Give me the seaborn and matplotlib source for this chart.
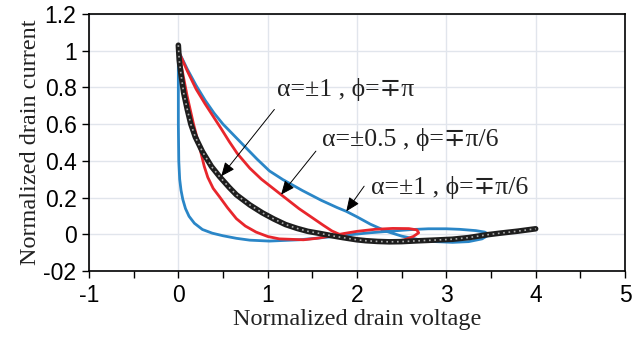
import matplotlib
matplotlib.use("Agg")
import matplotlib.pyplot as plt
import seaborn as sns
import pandas as pd

# ---- data ----
black_v = [0.0, 0.01, 0.03, 0.06, 0.1, 0.14, 0.19, 0.27, 0.37, 0.46, 0.57, 0.65, 0.8, 0.94,
           1.07, 1.2, 1.33, 1.45, 1.58, 1.72, 1.84, 2.0, 2.1, 2.23, 2.36, 2.5, 2.66, 2.85, 3.07,
           3.25, 3.45, 3.6, 3.8, 4.0]
black_i = [1.03, 0.95, 0.87, 0.77, 0.68, 0.6, 0.53, 0.45, 0.37, 0.315, 0.255, 0.215, 0.16, 0.117,
           0.083, 0.053, 0.032, 0.016, 0.005, -0.008, -0.018, -0.03, -0.035, -0.039, -0.041, -0.04, -0.036, -0.032, -0.027,
           -0.018, -0.003, 0.006, 0.017, 0.03]

red_v = [0.0, 0.1, 0.2, 0.3, 0.4, 0.48, 0.57, 0.66, 0.8, 0.93, 1.15, 1.35, 1.5, 1.62, 1.72,
         1.84, 1.97, 2.1, 2.25, 2.4, 2.53, 2.63, 2.69, 2.67, 2.58, 2.4, 2.2, 2.0, 1.85, 1.7,
         1.55, 1.4, 1.13, 1.0, 0.87, 0.75, 0.65, 0.55, 0.46, 0.39, 0.33, 0.29, 0.25, 0.17, 0.1,
         0.04, 0.0]
red_i = [1.0, 0.89, 0.79, 0.71, 0.635, 0.575, 0.505, 0.44, 0.36, 0.30, 0.216, 0.14, 0.09, 0.05, 0.018,
         -0.008, -0.027, -0.036, -0.04, -0.04, -0.03, -0.012, 0.008, 0.024, 0.031, 0.032, 0.027, 0.016, 0.004, -0.01,
         -0.022, -0.03, -0.025, -0.012, 0.012, 0.045, 0.085, 0.145, 0.205, 0.25, 0.31, 0.37, 0.45, 0.6, 0.75,
         0.9, 1.0]

blue_v = [0.0, 0.1, 0.2, 0.3, 0.4, 0.5, 0.6, 0.74, 0.88, 1.02, 1.17, 1.39, 1.6, 1.78, 1.88,
          2.0, 2.15, 2.33, 2.5, 2.7, 2.88, 3.07, 3.25, 3.4, 3.48, 3.43, 3.33, 3.15, 3.0, 2.8,
          2.62, 2.4, 2.14, 1.85, 1.58, 1.35, 1.02, 0.8, 0.65, 0.5, 0.38, 0.27, 0.18, 0.12, 0.08,
          0.05, 0.03, 0.015, 0.005, 0.0, 0.0, 0.0]
blue_i = [1.0, 0.9, 0.81, 0.73, 0.66, 0.6, 0.55, 0.48, 0.41, 0.345, 0.298, 0.238, 0.185, 0.145, 0.125,
          0.095, 0.055, 0.016, -0.01, -0.03, -0.04, -0.044, -0.04, -0.025, -0.002, 0.012, 0.02, 0.027, 0.03, 0.03,
          0.026, 0.018, 0.008, -0.006, -0.02, -0.03, -0.037, -0.032, -0.022, -0.008, 0.006, 0.026, 0.06, 0.098, 0.14,
          0.19, 0.24, 0.3, 0.4, 0.6, 0.85, 1.0]

xticks = [-1, 0, 1, 2, 3, 4, 5]
xtick_labels = ["-1", "0", "1", "2", "3", "4", "5"]
yticks = [1.2, 1.0, 0.8, 0.6, 0.4, 0.2, 0.0, -0.2]
ytick_labels = ["1.2", "1", "0.8", "0.6", "0.4", "0.2", "0", "-02"]

labels = ["α=±1 , ϕ=∓π", "α=±0.5 , ϕ=∓π/6", "α=±1 , ϕ=∓π/6"]

# ---- figure ----
sns.set_theme(style="whitegrid")
plt.rcParams["font.family"] = ["Liberation Sans", "DejaVu Sans"]
serif = ["Liberation Serif", "DejaVu Serif"]

fig = plt.figure(figsize=(6.41, 3.41), dpi=100)
ax = fig.add_axes([89 / 641, 1 - 271 / 341, (625 - 89) / 641, (271 - 14) / 341])
ax.set_facecolor("white")

blue_c = "#2a86c7"
red_c = "#e8262c"

df_b = pd.DataFrame({"v": blue_v, "i": blue_i})
df_r = pd.DataFrame({"v": red_v, "i": red_i})
df_k = pd.DataFrame({"v": black_v, "i": black_i})

sns.lineplot(data=df_b, x="v", y="i", sort=False, estimator=None, color=blue_c, lw=2.0, ax=ax)
sns.lineplot(data=df_r, x="v", y="i", sort=False, estimator=None, color=red_c, lw=2.0, ax=ax)
sns.lineplot(data=df_k, x="v", y="i", sort=False, estimator=None, color="#1e1e1e", lw=4.0, ax=ax)
sns.lineplot(data=df_k, x="v", y="i", sort=False, estimator=None, color="#b0b0b0", lw=1.2,
             dashes=False, ax=ax, linestyle=(0, (1.0, 2.2)))

ax.set_xlim(-1, 5)
ax.set_ylim(-0.2, 1.2)
ax.set_xticks(xticks)
ax.set_xticklabels(xtick_labels)
ax.set_xticks([-0.5, 0.5, 1.5, 2.5, 3.5, 4.5], minor=True)
ax.set_yticks(yticks)
ax.set_yticklabels(ytick_labels)
ax.tick_params(axis="both", which="major", direction="out", length=5, width=1.0, colors="black",
               labelsize=16.5, pad=4, bottom=True, left=True)
ax.tick_params(axis="x", which="minor", direction="out", length=5, width=1.0, color="black", bottom=True)
ax.grid(True, which="major", color="#e1e5ec", lw=1.0)
ax.grid(False, which="minor")
for s in ax.spines.values():
    s.set_color("black")
    s.set_linewidth(1.2)

ax.set_xlabel("Normalized drain voltage", family=serif, fontsize=17.5, color="#222", labelpad=2)
ax.set_ylabel("Normalized drain current", family=serif, fontsize=17.5, color="#222", labelpad=2)

arrow = dict(arrowstyle="-|>,head_length=0.7,head_width=0.3", color="black", lw=0.7,
             shrinkA=0, shrinkB=0)
ax.annotate("", xy=(0.48, 0.316), xytext=(1.075, 0.68), arrowprops=arrow)
ax.annotate("", xy=(1.15, 0.216), xytext=(1.54, 0.453), arrowprops=arrow)
ax.annotate("", xy=(1.88, 0.125), xytext=(2.08, 0.262), arrowprops=arrow)

ax.text(1.10, 0.79, labels[0], family=serif, fontsize=18.5, va="center", ha="left", color="#222")
ax.text(1.61, 0.516, labels[1], family=serif, fontsize=18.5, va="center", ha="left", color="#222")
ax.text(2.16, 0.255, labels[2], family=serif, fontsize=18.5, va="center", ha="left", color="#222")

fig.savefig("out.png", dpi=100, facecolor="white")
